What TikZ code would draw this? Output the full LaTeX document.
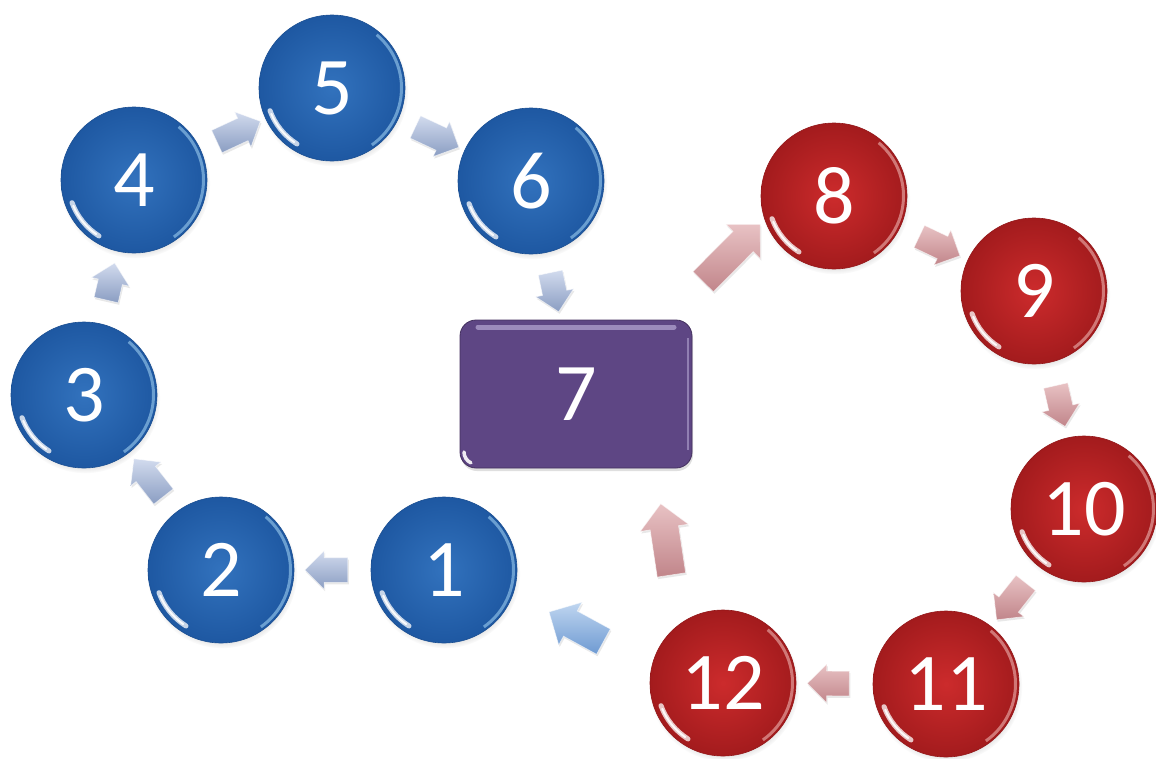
\documentclass[tikz,border=0pt]{standalone}
\usepackage{fontspec}
\newfontfamily\digitfont{Carlito}
\usetikzlibrary{shapes.arrows,shadows,calc}

% ball and box colours
\definecolor{blueball}{HTML}{3272BD}
\definecolor{blueedge}{HTML}{1E58A2}
\definecolor{bluerim}{HTML}{A8D8F6}
\definecolor{redball}{HTML}{CC2B2C}
\definecolor{rededge}{HTML}{A31B1D}
\definecolor{redrim}{HTML}{F5C3C0}
\definecolor{boxpurple}{HTML}{5E4684}
\definecolor{boxedge}{HTML}{44305F}
\definecolor{boxlight}{HTML}{A898C6}
% arrow colours
\definecolor{greytop}{HTML}{D2DBEE}
\definecolor{greybot}{HTML}{8A9DC2}
\definecolor{pinktop}{HTML}{E8C2C4}
\definecolor{pinkbot}{HTML}{C1858A}
\definecolor{skytop}{HTML}{C0D6F0}
\definecolor{skybot}{HTML}{6E9AD2}

\begin{document}
\begin{tikzpicture}[x=1pt,y=-1pt,
  num/.style={font=\digitfont\fontsize{82pt}{82pt}\selectfont, text=white},
  ball/.style n args={3}{circle, minimum size=146pt, inner sep=0pt, num,
    inner color=#1, outer color=#2, draw=#2!90!black, line width=0.6pt,
    circular drop shadow={shadow xshift=1pt, shadow yshift=-3pt, opacity=0.35, shadow scale=1.03},
    path picture={
      \coordinate (ppc) at (path picture bounding box.center);
      \draw[#3, line width=3pt, opacity=0.55]
        (ppc) ++(-55:69.5pt) arc[start angle=-55, end angle=50, radius=69.5pt];
      \draw[white, line width=5pt, opacity=0.75, line cap=round]
        (ppc) ++(200:66pt) arc[start angle=200, end angle=238, radius=66pt];
      \draw[white, line width=2pt, opacity=0.9, line cap=round]
        (ppc) ++(203:66pt) arc[start angle=203, end angle=235, radius=66pt];
    }},
  blueball/.style={ball={blueball}{blueedge}{bluerim}},
  redball/.style={ball={redball}{rededge}{redrim}},
  stepbox/.style={rectangle, rounded corners=16pt, minimum width=232pt,
    minimum height=148pt, num, fill=boxpurple, draw=boxedge, line width=0.8pt,
    drop shadow={shadow xshift=1pt, shadow yshift=-3pt, opacity=0.25},
    path picture={
      \draw[boxlight, line width=5pt, line cap=round, opacity=0.85]
        ([xshift=18pt,yshift=-7pt]path picture bounding box.north west) --
        ([xshift=-18pt,yshift=-7pt]path picture bounding box.north east);
      \draw[boxlight, line width=2.5pt, opacity=0.7]
        ([xshift=-4pt,yshift=-18pt]path picture bounding box.north east) --
        ([xshift=-4pt,yshift=18pt]path picture bounding box.south east);
      \draw[white, line width=3.5pt, opacity=0.9, line cap=round]
        ([xshift=4pt,yshift=16pt]path picture bounding box.south west)
        arc[start angle=180, end angle=245, radius=12pt];
    }},
  flow/.style={single arrow, single arrow head indent=0pt, inner xsep=0pt,
    sloped, allow upside down, minimum height=#1,
    draw=white, draw opacity=0.6, line width=0.7pt,
    drop shadow={shadow xshift=1pt, shadow yshift=-2pt, opacity=0.18}},
  small/.style={inner ysep=12pt, single arrow head extend=7pt},
  large/.style={inner ysep=14pt, single arrow head extend=10pt},
  greyflow/.style={top color=greytop, bottom color=greybot},
  pinkflow/.style={top color=pinktop, bottom color=pinkbot},
  skyflow/.style={top color=skytop, bottom color=skybot},
]

\fill[white] (0,0) rectangle (1156,758);
\useasboundingbox (0,0) rectangle (1156,758);

% blue cycle
\node[blueball] (n1) at (444,570) {1};
\node[blueball] (n2) at (221,570) {2};
\node[blueball] (n3) at (84,395)  {3};
\node[blueball] (n4) at (134,180) {4};
\node[blueball] (n5) at (332,88)  {5};
\node[blueball] (n6) at (531,181) {6};

% central step
\node[stepbox] (n7) at (576,394) {7};

% red cycle
\node[redball] (n8)  at (834,196)  {8};
\node[redball] (n9)  at (1034,291) {9};
\node[redball] (n10) at (1084,509) {10};
\node[redball] (n11) at (946,684)  {11};
\node[redball] (n12) at (723,683)  {12};

% block arrows of the blue cycle
\path (n1) -- (n2) node[midway, flow=43pt, small, greyflow] {};
\path (n2) -- (n3) node[midway, flow=48pt, small, greyflow] {};
\path (n3) -- (n4) node[midway, flow=38pt, small, greyflow] {};
\path (n4) -- (n5) node[midway, flow=48pt, small, greyflow] {};
\path (n5) -- (n6) node[midway, flow=48pt, small, greyflow] {};
\path (n6) -- (n7) node[midway, flow=40pt, small, greyflow] {};

% out of step 7 into the red cycle
\path ([xshift=-27pt]n7.north east) -- (n8.199)
  node[pos=0.617, flow=81pt, large, pinkflow] {};

% block arrows of the red cycle
\path (n8) -- (n9)   node[midway, flow=45pt, small, pinkflow] {};
\path (n9) -- (n10)  node[midway, flow=42pt, small, pinkflow] {};
\path (n10) -- (n11) node[midway, flow=47pt, small, pinkflow] {};
\path (n11) -- (n12) node[midway, flow=42pt, small, pinkflow] {};

% back from 12
\path (n12.127) -- ([xshift=-37pt]n7.south east)
  node[midway, flow=72pt, large, pinkflow] {};
\path (n12.168) -- (n1.342)
  node[midway, flow=62pt, large, skyflow] {};

\end{tikzpicture}
\end{document}
